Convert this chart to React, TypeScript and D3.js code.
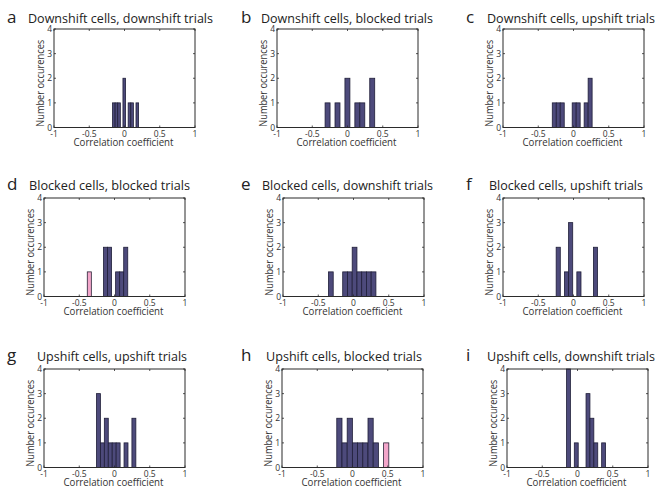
import { useEffect, useRef } from 'react';
import * as d3 from 'd3';

// panel letters / titles
const letters = ['a', 'b', 'c', 'd', 'e', 'f', 'g', 'h', 'i'];
const titles = [
  'Downshift cells, downshift trials',
  'Downshift cells, blocked trials',
  'Downshift cells, upshift trials',
  'Blocked cells, blocked trials',
  'Blocked cells, downshift trials',
  'Blocked cells, upshift trials',
  'Upshift cells, upshift trials',
  'Upshift cells, blocked trials',
  'Upshift cells, downshift trials',
];

// 10-bin histograms over each panel's data range
const binMin = [-0.17, -0.318, -0.301, -0.386, -0.355, -0.246, -0.256, -0.223, -0.156];
const binMax = [0.2, 0.386, 0.264, 0.188, 0.318, 0.341, 0.303, 0.515, 0.398];
const counts = [
  [1, 1, 1, 0, 2, 0, 1, 1, 0, 1],
  [1, 0, 1, 0, 2, 0, 1, 1, 0, 2],
  [1, 1, 1, 0, 0, 1, 1, 0, 1, 2],
  [0, 0, 0, 0, 2, 2, 0, 1, 1, 2],
  [1, 0, 0, 1, 1, 2, 1, 1, 1, 1],
  [2, 0, 1, 3, 0, 1, 0, 0, 0, 2],
  [3, 1, 2, 1, 1, 1, 0, 1, 0, 2],
  [2, 1, 2, 1, 1, 1, 2, 1, 0, 0],
  [4, 0, 1, 0, 0, 3, 2, 1, 0, 1],
];
// highlighted (pink) counts
const pinkCounts = [
  [0, 0, 0, 0, 0, 0, 0, 0, 0, 0],
  [0, 0, 0, 0, 0, 0, 0, 0, 0, 0],
  [0, 0, 0, 0, 0, 0, 0, 0, 0, 0],
  [1, 0, 0, 0, 0, 0, 0, 0, 0, 0],
  [0, 0, 0, 0, 0, 0, 0, 0, 0, 0],
  [0, 0, 0, 0, 0, 0, 0, 0, 0, 0],
  [0, 0, 0, 0, 0, 0, 0, 0, 0, 0],
  [0, 0, 0, 0, 0, 0, 0, 0, 0, 1],
  [0, 0, 0, 0, 0, 0, 0, 0, 0, 0],
];

const xTicks = [-1, -0.5, 0, 0.5, 1];
const xTickLabels = ['-1', '-0.5', '0', '0.5', '1'];
const yTicks = [0, 1, 2, 3, 4];

// layout
const axLeft = [54, 277, 503, 44, 283, 503, 44, 282, 507];
const rowTop = [29, 198, 369];
const titleBase = [23, 190, 361];
const letterX = [7, 241, 466];
const titleX = [28, 261, 487, 29, 262, 489, 37, 266, 487];
const titleW = [185, 172, 168, 161, 171, 154, 150, 156, 168];
const AW = 141;
const AH = 98.5;

const FONT = "'Open Sans', 'Noto Sans', sans-serif";

const App = () => {
  const svgRef = useRef<SVGSVGElement>(null);

  useEffect(() => {
    const svg = d3.select(svgRef.current);
    svg.selectAll('*').remove();

    letters.forEach((letter, i) => {
      const row = Math.floor(i / 3);
      const col = i % 3;
      const x = d3.scaleLinear().domain([-1, 1]).range([0, AW]);
      const y = d3.scaleLinear().domain([0, 4]).range([AH, 0]);

      const g = svg.append('g')
        .attr('transform', `translate(${axLeft[i]},${rowTop[row]})`);

      // bars
      const n = counts[i].length;
      const bw = (binMax[i] - binMin[i]) / n;
      const bins = counts[i].map((c, k) => ({
        x0: binMin[i] + k * bw,
        x1: binMin[i] + (k + 1) * bw,
        c,
        p: pinkCounts[i][k],
      }));

      g.selectAll('rect.bar')
        .data(bins.filter(d => d.c > 0))
        .enter()
        .append('rect')
        .attr('class', 'bar')
        .attr('x', d => x(d.x0))
        .attr('width', d => x(d.x1) - x(d.x0))
        .attr('y', d => y(d.c))
        .attr('height', d => y(0) - y(d.c))
        .attr('fill', '#4d4a7b')
        .attr('stroke', '#1f1e38')
        .attr('stroke-width', 0.8);

      g.selectAll('rect.pink')
        .data(bins.filter(d => d.p > 0))
        .enter()
        .append('rect')
        .attr('class', 'pink')
        .attr('x', d => x(d.x0))
        .attr('width', d => x(d.x1) - x(d.x0))
        .attr('y', d => y(d.p))
        .attr('height', d => y(0) - y(d.p))
        .attr('fill', '#f3a6ca')
        .attr('stroke', '#2a2238')
        .attr('stroke-width', 0.8);

      // box
      g.append('rect')
        .attr('x', 0).attr('y', 0)
        .attr('width', AW).attr('height', AH)
        .attr('fill', 'none')
        .attr('stroke', '#2b2b2b')
        .attr('stroke-width', 1);

      // inward ticks on all sides
      const tl = 2;
      xTicks.forEach(t => {
        g.append('line').attr('x1', x(t)).attr('x2', x(t)).attr('y1', AH).attr('y2', AH - tl)
          .attr('stroke', '#2b2b2b').attr('stroke-width', 0.8);
        g.append('line').attr('x1', x(t)).attr('x2', x(t)).attr('y1', 0).attr('y2', tl)
          .attr('stroke', '#2b2b2b').attr('stroke-width', 0.8);
      });
      yTicks.forEach(t => {
        g.append('line').attr('x1', 0).attr('x2', tl).attr('y1', y(t)).attr('y2', y(t))
          .attr('stroke', '#2b2b2b').attr('stroke-width', 0.8);
        g.append('line').attr('x1', AW).attr('x2', AW - tl).attr('y1', y(t)).attr('y2', y(t))
          .attr('stroke', '#2b2b2b').attr('stroke-width', 0.8);
      });

      // tick labels
      g.selectAll('text.xt')
        .data(xTicks)
        .enter()
        .append('text')
        .attr('class', 'xt')
        .attr('x', d => x(d))
        .attr('y', AH + 9.5)
        .attr('text-anchor', 'middle')
        .style('font-family', FONT)
        .style('font-size', '8.5px')
        .attr('fill', '#333')
        .text((d, k) => xTickLabels[k]);

      g.selectAll('text.yt')
        .data(yTicks)
        .enter()
        .append('text')
        .attr('class', 'yt')
        .attr('x', -2)
        .attr('y', d => y(d) + 3)
        .attr('text-anchor', 'end')
        .style('font-family', FONT)
        .style('font-size', '8.5px')
        .attr('fill', '#333')
        .text(d => String(d));

      // axis labels
      g.append('text')
        .attr('x', AW / 2 - 1)
        .attr('y', AH + 18.5)
        .attr('text-anchor', 'middle')
        .attr('textLength', 100)
        .attr('lengthAdjust', 'spacingAndGlyphs')
        .style('font-family', FONT)
        .style('font-size', '11px')
        .attr('fill', '#333')
        .text('Correlation coefficient');

      g.append('text')
        .attr('transform', `translate(-10,${AH / 2 + 5}) rotate(-90)`)
        .attr('text-anchor', 'middle')
        .attr('textLength', 87)
        .attr('lengthAdjust', 'spacingAndGlyphs')
        .style('font-family', FONT)
        .style('font-size', '11px')
        .attr('fill', '#333')
        .text('Number occurences');

      // panel letter + title
      svg.append('text')
        .attr('x', letterX[col])
        .attr('y', titleBase[row])
        .style('font-family', FONT)
        .style('font-size', '17px')
        .attr('fill', '#222')
        .text(letter);

      svg.append('text')
        .attr('x', titleX[i])
        .attr('y', titleBase[row])
        .attr('textLength', titleW[i])
        .attr('lengthAdjust', 'spacingAndGlyphs')
        .style('font-family', FONT)
        .style('font-size', '12.5px')
        .attr('fill', '#222')
        .text(titles[i]);
    });
  }, []);

  return (
    <svg
      ref={svgRef}
      width={669}
      height={491}
      style={{ position: 'absolute', left: 0, top: 0, background: '#fff' }}
    />
  );
};

export default App;
